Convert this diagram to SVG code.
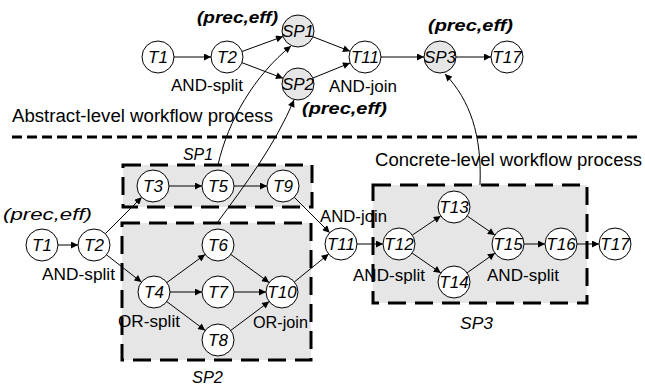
<svg xmlns="http://www.w3.org/2000/svg" width="645" height="389" viewBox="0 0 645 389">
<defs>
<marker id="ah" viewBox="0 0 10 10" refX="10" refY="5" markerWidth="8" markerHeight="7" markerUnits="userSpaceOnUse" orient="auto">
<path d="M0,0 L10,5 L0,10 z" fill="#000"/>
</marker>
<style>
.box{fill:#e6e6e6;stroke:#000;stroke-width:3;stroke-dasharray:18 9}
.sep{fill:none;stroke:#000;stroke-width:3;stroke-dasharray:10 5}
.edge line,.edge path{fill:none;stroke:#000;stroke-width:1;marker-end:url(#ah)}
.n circle{fill:#fff;stroke:#000;stroke-width:1}
.n.g circle{fill:#e6e6e6}
.n text{font-family:"Liberation Sans",Arial,sans-serif;font-style:italic;font-size:17px;text-anchor:middle}
.lbl{font-family:"Liberation Sans",Arial,sans-serif;font-size:17px}
.big{font-family:"Liberation Sans",Arial,sans-serif;font-size:18px}
.pe{font-family:"Liberation Sans",Arial,sans-serif;font-size:17px;font-style:italic;font-weight:bold}
.it{font-family:"Liberation Sans",Arial,sans-serif;font-size:17px;font-style:italic}
</style>
</defs>
<rect width="645" height="389" fill="#fff"/>

<g id="boxes">
<rect id="box-SP1" class="box" x="123" y="165" width="189" height="42"/>
<rect id="box-SP2" class="box" x="122" y="223" width="189" height="137"/>
<rect id="box-SP3" class="box" x="373" y="185" width="214" height="118"/>
</g>
<line class="sep" x1="12" y1="137" x2="642" y2="137"/>

<g id="connectors" class="edge">
<line x1="174" y1="57" x2="211" y2="57"/>
<line x1="242" y1="51.5" x2="283" y2="36.5"/>
<line x1="242" y1="62.7" x2="283" y2="78.3"/>
<line x1="313" y1="36.8" x2="350" y2="51.2"/>
<line x1="313" y1="78" x2="350" y2="63"/>
<line x1="381" y1="57" x2="424" y2="57"/>
<line x1="456" y1="57" x2="491" y2="57"/>

<line x1="58" y1="245" x2="78" y2="245"/>
<line x1="105.3" y1="233.7" x2="141.7" y2="197.3"/>
<line x1="106.6" y1="254.9" x2="141.4" y2="282.1"/>
<line x1="169" y1="186" x2="202" y2="186"/>
<line x1="234" y1="186" x2="267" y2="186"/>
<line x1="294.3" y1="197.3" x2="329.7" y2="232.7"/>
<line x1="166.9" y1="282.5" x2="205.1" y2="254.5"/>
<line x1="170" y1="292" x2="202" y2="292"/>
<line x1="166.8" y1="301.6" x2="205.2" y2="330.4"/>
<line x1="230.9" y1="254.5" x2="269.1" y2="282.5"/>
<line x1="234" y1="292" x2="266" y2="292"/>
<line x1="230.8" y1="330.4" x2="269.2" y2="301.6"/>
<line x1="294.4" y1="281.9" x2="328.6" y2="254.1"/>
<line x1="357" y1="244" x2="383" y2="244"/>
<line x1="412.3" y1="235.1" x2="440.7" y2="215.9"/>
<line x1="412.2" y1="253.1" x2="440.8" y2="272.9"/>
<line x1="467.2" y1="216" x2="494.8" y2="235"/>
<line x1="467.1" y1="272.8" x2="494.9" y2="253.2"/>
<line x1="524" y1="244" x2="545" y2="244"/>
<line x1="577" y1="244" x2="599" y2="244"/>

<path d="M218,165 C228,120 255,75 291,46"/>
<path d="M217,223 C245,185 275,145 294,100"/>
<path d="M480,185 C482,135 470,100 445,74"/>
</g>

<g id="T1a" class="n"><circle cx="158" cy="57" r="16"/><text x="158" y="63">T1</text></g>
<g id="T2a" class="n"><circle cx="227" cy="57" r="16"/><text x="227" y="63">T2</text></g>
<g id="SP1a" class="n g"><circle cx="298" cy="31" r="16"/><text x="298" y="37">SP1</text></g>
<g id="SP2a" class="n g"><circle cx="298" cy="84" r="16"/><text x="298" y="90">SP2</text></g>
<g id="T11a" class="n"><circle cx="365" cy="57" r="16"/><text x="365" y="63">T11</text></g>
<g id="SP3a" class="n g"><circle cx="440" cy="57" r="16"/><text x="440" y="63">SP3</text></g>
<g id="T17a" class="n"><circle cx="507" cy="57" r="16"/><text x="507" y="63">T17</text></g>

<g id="T1" class="n"><circle cx="42" cy="245" r="16"/><text x="42" y="251">T1</text></g>
<g id="T2" class="n"><circle cx="94" cy="245" r="16"/><text x="94" y="251">T2</text></g>
<g id="T3" class="n"><circle cx="153" cy="186" r="16"/><text x="153" y="192">T3</text></g>
<g id="T5" class="n"><circle cx="218" cy="186" r="16"/><text x="218" y="192">T5</text></g>
<g id="T9" class="n"><circle cx="283" cy="186" r="16"/><text x="283" y="192">T9</text></g>
<g id="T4" class="n"><circle cx="154" cy="292" r="16"/><text x="154" y="298">T4</text></g>
<g id="T6" class="n"><circle cx="218" cy="245" r="16"/><text x="218" y="251">T6</text></g>
<g id="T7" class="n"><circle cx="218" cy="292" r="16"/><text x="218" y="298">T7</text></g>
<g id="T8" class="n"><circle cx="218" cy="340" r="16"/><text x="218" y="346">T8</text></g>
<g id="T10" class="n"><circle cx="282" cy="292" r="16"/><text x="282" y="298">T10</text></g>
<g id="T11" class="n"><circle cx="341" cy="244" r="16"/><text x="341" y="250">T11</text></g>
<g id="T12" class="n"><circle cx="399" cy="244" r="16"/><text x="399" y="250">T12</text></g>
<g id="T13" class="n"><circle cx="454" cy="207" r="16"/><text x="454" y="213">T13</text></g>
<g id="T14" class="n"><circle cx="454" cy="282" r="16"/><text x="454" y="288">T14</text></g>
<g id="T15" class="n"><circle cx="508" cy="244" r="16"/><text x="508" y="250">T15</text></g>
<g id="T16" class="n"><circle cx="561" cy="244" r="16"/><text x="561" y="250">T16</text></g>
<g id="T17" class="n"><circle cx="615" cy="244" r="16"/><text x="615" y="250">T17</text></g>

<g id="labels">
<text class="pe" x="197" y="23" textLength="81" lengthAdjust="spacingAndGlyphs">(prec,eff)</text>
<text class="pe" x="302" y="114" textLength="85" lengthAdjust="spacingAndGlyphs">(prec,eff)</text>
<text class="pe" x="428" y="31" textLength="85" lengthAdjust="spacingAndGlyphs">(prec,eff)</text>
<text class="it" x="3" y="220" textLength="89" lengthAdjust="spacingAndGlyphs">(prec,eff)</text>
<text class="lbl" x="171" y="91" textLength="72" lengthAdjust="spacingAndGlyphs">AND-split</text>
<text class="lbl" x="329" y="92" textLength="68" lengthAdjust="spacingAndGlyphs">AND-join</text>
<text class="big" x="12" y="122" textLength="261" lengthAdjust="spacingAndGlyphs">Abstract-level workflow process</text>
<text class="big" x="375" y="166" textLength="267" lengthAdjust="spacingAndGlyphs">Concrete-level workflow process</text>
<text class="it" x="183" y="160" textLength="30" lengthAdjust="spacingAndGlyphs">SP1</text>
<text class="it" x="192" y="383" textLength="31" lengthAdjust="spacingAndGlyphs">SP2</text>
<text class="it" x="460" y="329" textLength="33" lengthAdjust="spacingAndGlyphs">SP3</text>
<text class="lbl" x="320" y="222" textLength="67" lengthAdjust="spacingAndGlyphs">AND-join</text>
<text class="lbl" x="42" y="280" textLength="73" lengthAdjust="spacingAndGlyphs">AND-split</text>
<text class="lbl" x="118" y="327" textLength="62" lengthAdjust="spacingAndGlyphs">OR-split</text>
<text class="lbl" x="253" y="328" textLength="55" lengthAdjust="spacingAndGlyphs">OR-join</text>
<text class="lbl" x="353" y="281" textLength="72" lengthAdjust="spacingAndGlyphs">AND-split</text>
<text class="lbl" x="487" y="281" textLength="72" lengthAdjust="spacingAndGlyphs">AND-split</text>
</g>
</svg>
